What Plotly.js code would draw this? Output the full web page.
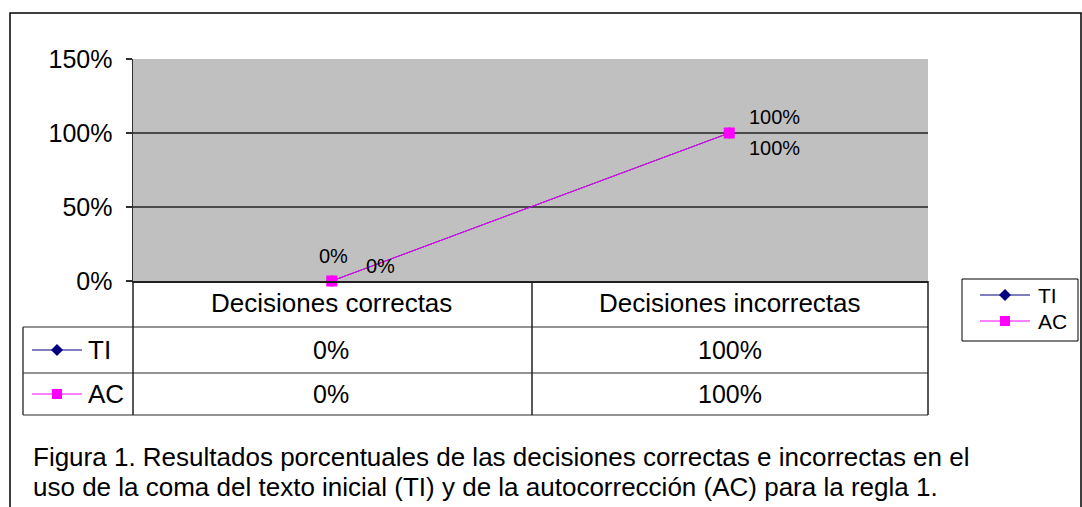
<!DOCTYPE html>
<html>
<head>
<meta charset="utf-8">
<script src="https://cdn.plot.ly/plotly-3.0.1.min.js"></script>
<style>html,body{margin:0;padding:0;background:#fff;}#chart{width:1082px;height:507px;}</style>
</head>
<body>
<div id="chart"></div>
<script>
// ---- data ----
const categories = ['Decisiones correctas', 'Decisiones incorrectas'];
const seriesNames = ['TI', 'AC'];
const tiValues = [0, 1];
const acValues = [0, 1];
const yTickVals = [0, 0.5, 1, 1.5];
const captionLines = [
  'Figura 1. Resultados porcentuales de las decisiones correctas e incorrectas en el',
  'uso de la coma del texto inicial (TI) y de la autocorrección (AC) para la regla 1.'
];

// ---- geometry helpers (pixels -> paper) ----
const W = 1082, H = 507;
const X = p => p / W;
const Y = p => 1 - p / H;
const plotL = 133, plotR = 928, plotT = 59, plotB = 281;
const FONT = 'Liberation Sans, Arial, sans-serif';
const navy = '#000080', magenta = '#FF00FF';
const pct = v => Math.round(v * 100) + '%';

const traces = [
  {x: categories, y: tiValues, name: seriesNames[0], type: 'scatter', mode: 'lines+markers',
   line: {color: navy, width: 1}, marker: {symbol: 'diamond', size: 9, color: navy},
   cliponaxis: false, hoverinfo: 'none', showlegend: false},
  {x: categories, y: acValues, name: seriesNames[1], type: 'scatter', mode: 'lines+markers',
   line: {color: magenta, width: 1}, marker: {symbol: 'square', size: 11, color: magenta},
   cliponaxis: false, hoverinfo: 'none', showlegend: false}
];

const annotations = [];
// data labels
const labelOffsets = {
  TI: [[49, 15], [45, -15]],
  AC: [[2, 25], [45, 16]]
};
[[seriesNames[0], tiValues], [seriesNames[1], acValues]].forEach(([nm, vals]) => {
  vals.forEach((v, i) => {
    annotations.push({x: categories[i], y: v, xref: 'x', yref: 'y', text: pct(v), showarrow: false,
      xshift: labelOffsets[nm][i][0], yshift: labelOffsets[nm][i][1],
      font: {family: FONT, size: 20, color: '#000'}});
  });
});
// table: category row
const colCenters = [331, 730];
categories.forEach((c, i) => {
  annotations.push({x: X(colCenters[i]), y: Y(303), xref: 'paper', yref: 'paper', text: c, showarrow: false,
    font: {family: FONT, size: 26, color: '#000'}, xanchor: 'center', yanchor: 'middle'});
});
// table: value rows
const rowCenters = [350, 394];
[tiValues, acValues].forEach((vals, r) => {
  vals.forEach((v, i) => {
    annotations.push({x: X(colCenters[i]), y: Y(rowCenters[r]), xref: 'paper', yref: 'paper', text: pct(v),
      showarrow: false, font: {family: FONT, size: 25, color: '#000'}, xanchor: 'center', yanchor: 'middle'});
  });
  annotations.push({x: X(86), y: Y(rowCenters[r]), xref: 'paper', yref: 'paper', text: seriesNames[r],
    showarrow: false, font: {family: FONT, size: 26, color: '#000'}, xanchor: 'left', yanchor: 'middle'});
});
// caption
captionLines.forEach((t, i) => {
  annotations.push({x: X(31), y: Y(457 + i * 30), xref: 'paper', yref: 'paper', text: t, showarrow: false,
    font: {family: FONT, size: 26, color: '#000'}, xanchor: 'left', yanchor: 'middle'});
});

const shapes = [];
const hline = (x0, x1, y, color, w) => shapes.push({type: 'line', xref: 'paper', yref: 'paper',
  x0: X(x0), x1: X(x1), y0: Y(y), y1: Y(y), line: {color: color, width: w}});
const vline = (x, y0, y1, color, w) => shapes.push({type: 'line', xref: 'paper', yref: 'paper',
  x0: X(x), x1: X(x), y0: Y(y0), y1: Y(y1), line: {color: color, width: w}});
const diamondKey = (cx, cy, r, color) => shapes.push({type: 'path', xref: 'paper', yref: 'paper',
  path: `M${X(cx - r)},${Y(cy)} L${X(cx)},${Y(cy - r)} L${X(cx + r)},${Y(cy)} L${X(cx)},${Y(cy + r)} Z`,
  fillcolor: color, line: {color: color, width: 0}});
const squareKey = (cx, cy, r, color) => shapes.push({type: 'rect', xref: 'paper', yref: 'paper',
  x0: X(cx - r), x1: X(cx + r), y0: Y(cy - r), y1: Y(cy + r), fillcolor: color, line: {color: color, width: 0}});

// outer frame
shapes.push({type: 'rect', xref: 'paper', yref: 'paper', x0: X(10), x1: X(1081), y0: Y(13), y1: Y(530),
  line: {color: '#000', width: 1.5}, fillcolor: 'rgba(0,0,0,0)'});
// table lines
hline(23, 928, 327, '#707070', 1.5);
hline(23, 928, 373, '#707070', 1.5);
hline(23, 928, 415, '#707070', 1.5);
vline(23, 327, 415, '#404040', 1.5);
vline(133, 281, 415, '#202020', 1.5);
vline(532, 281, 415, '#202020', 1.5);
vline(928, 281, 415, '#202020', 1.5);
// legend keys in table rows
hline(32, 82, rowCenters[0], navy, 1);
hline(32, 82, rowCenters[1], magenta, 1);
diamondKey(57, rowCenters[0], 6, navy);
squareKey(57, rowCenters[1], 5, magenta);

// legend box (right)
shapes.push({type: 'rect', xref: 'paper', yref: 'paper', x0: X(962), x1: X(1078), y0: Y(279), y1: Y(341),
  line: {color: '#000', width: 1}, fillcolor: '#fff'});
const legendRows = [295, 321];
hline(980, 1030, legendRows[0], navy, 1);
hline(980, 1030, legendRows[1], magenta, 1);
diamondKey(1005, legendRows[0], 6, navy);
squareKey(1005, legendRows[1], 5, magenta);
seriesNames.forEach((nm, i) => {
  annotations.push({x: X(1036), y: Y(legendRows[i]), xref: 'paper', yref: 'paper', text: nm, showarrow: false,
    font: {family: FONT, size: 21, color: '#000'}, xanchor: 'left', yanchor: 'middle'});
});

const layout = {
  width: W, height: H,
  margin: {l: 0, r: 0, t: 0, b: 0, pad: 0},
  paper_bgcolor: '#fff', plot_bgcolor: '#C0C0C0',
  font: {family: FONT, color: '#000'},
  showlegend: false,
  xaxis: {domain: [X(plotL), X(plotR)], type: 'category', range: [-0.5, 1.5], showticklabels: false,
    ticks: '', showgrid: false, showline: true, linecolor: '#202020', linewidth: 1.5, zeroline: false,
    automargin: false, fixedrange: true},
  yaxis: {domain: [Y(plotB), Y(plotT)], range: [0, 1.5], tickvals: yTickVals, tickformat: '.0%',
    showgrid: true, gridcolor: '#4a4a4a', gridwidth: 1.5, showline: true, linecolor: '#303030', linewidth: 1.5,
    ticks: 'outside', ticklen: 6, tickcolor: '#303030', tickwidth: 1.5, ticklabelstandoff: 8,
    zeroline: false, automargin: false, fixedrange: true,
    tickfont: {family: FONT, size: 25, color: '#000'}},
  annotations: annotations,
  shapes: shapes
};

Plotly.newPlot('chart', traces, layout, {staticPlot: true, displayModeBar: false});
</script>
</body>
</html>
